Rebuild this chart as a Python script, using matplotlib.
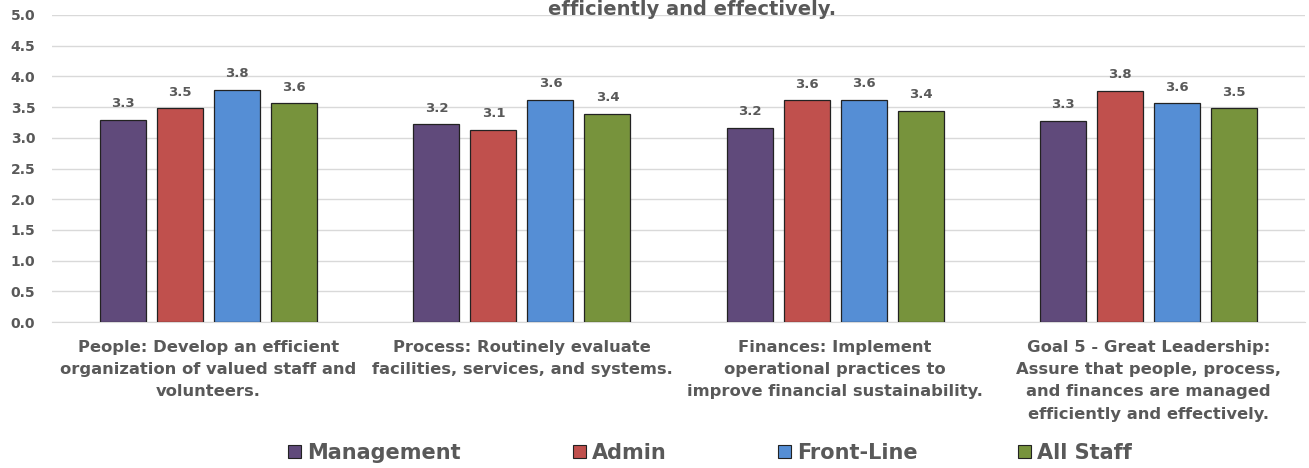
import numpy as np
import matplotlib.pyplot as plt
from matplotlib.patches import Patch

categories = [
    "People: Develop an efficient\norganization of valued staff and\nvolunteers.",
    "Process: Routinely evaluate\nfacilities, services, and systems.",
    "Finances: Implement\noperational practices to\nimprove financial sustainability.",
    "Goal 5 - Great Leadership:\nAssure that people, process,\nand finances are managed\nefficiently and effectively.",
]
series = ["Management", "Admin", "Front-Line", "All Staff"]
management = [3.29, 3.22, 3.16, 3.27]
admin = [3.48, 3.13, 3.61, 3.77]
front_line = [3.78, 3.62, 3.62, 3.56]
all_staff = [3.56, 3.39, 3.44, 3.48]
colors = ["#604A7B", "#C0504D", "#558ED5", "#77933C"]

text_color = "#595959"
plt.rcParams['font.family'] = ['DejaVu Sans']

fig = plt.figure(figsize=(13.09, 4.68), dpi=100)
ax = fig.add_axes([52 / 1309, 1 - 322 / 468, 1253 / 1309, 307 / 468])

x = np.arange(len(categories))
width = 0.147
step = 0.182
for i, (vals, name) in enumerate(zip([management, admin, front_line, all_staff], series)):
    pos = x + (i - 1.5) * step
    bars = ax.bar(pos, vals, width, color=colors[i], edgecolor="#222222", linewidth=0.9,
                  label=name, zorder=3)
    for b, v in zip(bars, vals):
        ax.annotate(f"{v:.1f}", (b.get_x() + b.get_width() / 2, v), xytext=(0, 7),
                    textcoords="offset points", ha="center", va="bottom",
                    fontsize=9.5, fontweight="bold", color=text_color)

ax.set_xlim(-0.5, 3.5)
ax.set_ylim(0, 5)
ticks = np.arange(0, 5.01, 0.5)
ax.set_yticks(ticks)
ax.set_yticklabels([f"{t:.1f}" for t in ticks], fontsize=10,
                   fontweight="bold", color=text_color)
ax.set_xticks(x)
ax.set_xticklabels(categories, fontsize=11.8, fontweight="bold", color=text_color,
                   linespacing=1.6, va="top")
ax.tick_params(axis="both", length=0)
ax.tick_params(axis="x", pad=13)
ax.tick_params(axis="y", pad=12)
ax.grid(axis="y", color="#D9D9D9", linewidth=1, zorder=0)
for s in ["top", "right", "left"]:
    ax.spines[s].set_visible(False)
ax.spines["bottom"].set_color("#D9D9D9")

fig.text(692 / 1309, 1.0, "efficiently and effectively.",
         ha="center", va="top", fontsize=14, fontweight="bold", color=text_color)

# one legend per entry, placed where each entry sits in the original
leg_x = [288, 573, 778, 1018]
for name, c, lx in zip(series, colors, leg_x):
    leg = fig.legend(handles=[Patch(facecolor=c, edgecolor="#222222", linewidth=0.8, label=name)],
                     loc="center left", bbox_to_anchor=(lx / 1309, 1 - 453 / 468),
                     frameon=False, fontsize=15, handlelength=0.63, handleheight=0.63,
                     handletextpad=0.3, borderpad=0, borderaxespad=0)
    for t in leg.get_texts():
        t.set_color(text_color)
        t.set_fontweight("bold")

fig.savefig("out.png", dpi=100)
